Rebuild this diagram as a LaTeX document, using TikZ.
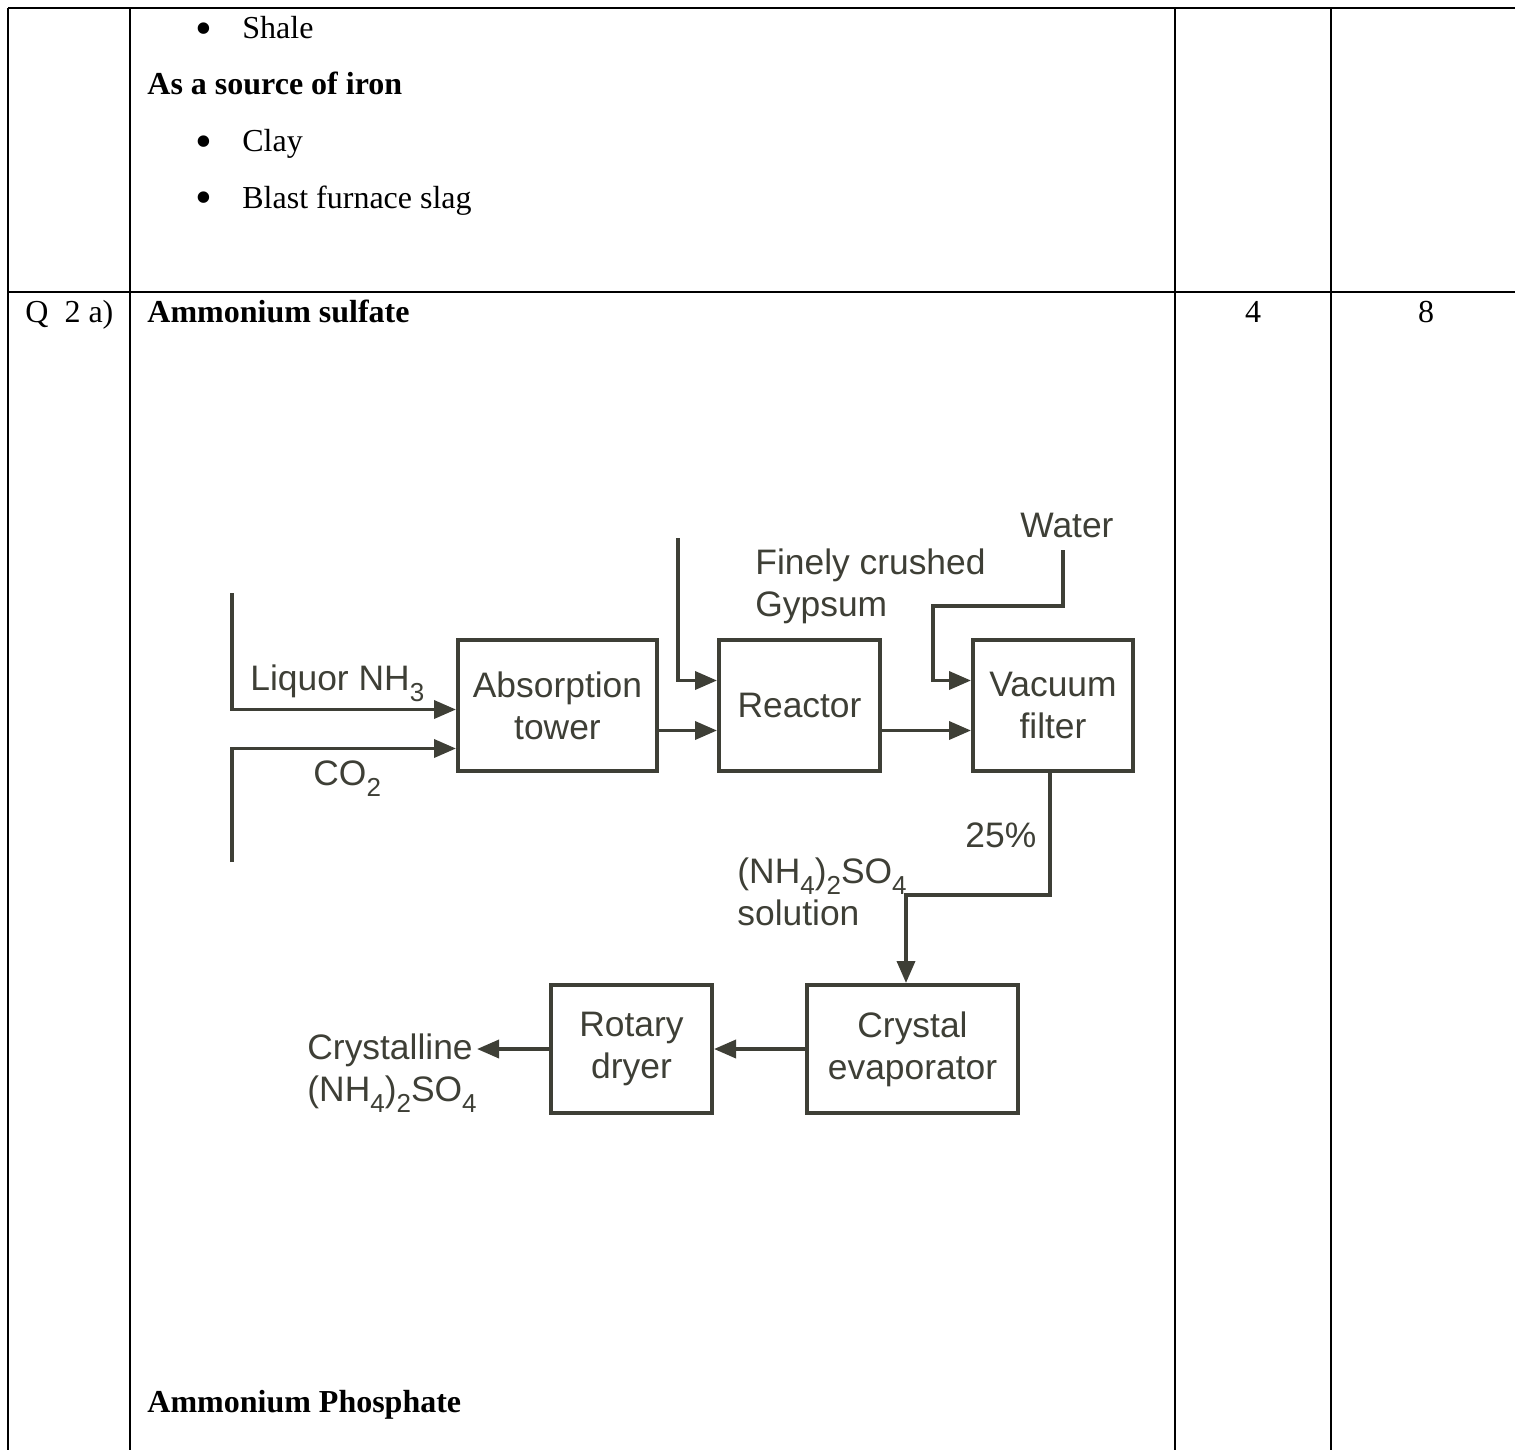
\documentclass[tikz,border=0pt]{standalone}
\usepackage{fontspec}
\setmainfont{Liberation Serif}
\newfontfamily\arial{Liberation Sans}
\usetikzlibrary{arrows.meta,calc}
\definecolor{ink}{HTML}{3E3F36}
\newcommand\dn[1]{\raisebox{-0.32em}{\fontsize{13}{13}\selectfont #1}}
\newcommand\bul{\raisebox{-0.18em}{\fontsize{24}{24}\selectfont\textbullet}}
\begin{document}
\begin{tikzpicture}[x=0.5pt,y=-0.5pt,
  rule/.style={line width=1.4pt},
  txt/.style={inner sep=0pt,anchor=base west,font=\fontsize{16}{19}\selectfont},
  unit/.style={draw=ink,line width=2pt,inner sep=0pt,align=center,text=ink,
    font=\arial\fontsize{17.7}{21}\selectfont},
  lbl/.style={inner sep=0pt,text=ink,font=\arial\fontsize{17.7}{21}\selectfont},
  flow/.style={draw=ink,line width=1.8pt,-{Triangle[length=11pt,width=9pt]}}]
\useasboundingbox (0,0) rectangle (1515,1450);
% table
\draw[rule] (8,8) -- (1515,8) (8,292) -- (1515,292);
\foreach \x in {8,130,1175,1331} \draw[rule] (\x,8) -- (\x,1450);
\node[txt] (b1) at (195,39) {\bul};
\node[txt] (shale) at (242,39) {Shale};
\node[txt] (iron) at (147,95) {\bfseries As a source of iron};
\node[txt] (b2) at (195,152) {\bul};
\node[txt] (clay) at (242,152) {Clay};
\node[txt] (b3) at (195,208) {\bul};
\node[txt] (slag) at (242,208) {Blast furnace slag};
\node[txt] (qno) at (25,322) {Q\ \ 2 a)};
\node[txt] (sulf) at (147,322) {\bfseries Ammonium sulfate};
\node[txt,anchor=base] (mk1) at (1253,322) {4};
\node[txt,anchor=base] (mk2) at (1426,322) {8};
\node[txt] (phos) at (147,1412) {\bfseries Ammonium Phosphate};
% units
\node[unit,minimum width=99.5pt,minimum height=65.5pt] (abs) at (557.5,705.5) {Absorption\\tower};
\node[unit,minimum width=80.5pt,minimum height=65.5pt] (reac) at (799.5,705.5) {Reactor};
\node[unit,minimum width=80pt,minimum height=65.5pt] (vac) at (1053,705.5) {Vacuum\\filter};
\node[unit,minimum width=105.5pt,minimum height=64pt] (cry) at (912.5,1049) {Crystal\\evaporator};
\node[unit,minimum width=80.5pt,minimum height=64pt] (rot) at (631.5,1049) {Rotary\\dryer};
% labels
\node[lbl,anchor=base west] (tnh3) at (250,690) {Liquor NH\dn{3}};
\node[lbl,anchor=base west] (tco2) at (313,785) {CO\dn{2}};
\node[lbl,anchor=north west,align=left] (tgyp) at (755,548) {Finely crushed\\Gypsum};
\node[lbl,anchor=base west] (twat) at (1020,537) {Water};
\node[lbl,anchor=base west] (tpct) at (965,847) {25\%};
\node[lbl,anchor=north west,align=left] (tsol) at (737,857) {(NH\dn{4})\dn{2}SO\dn{4}\\solution};
\node[lbl,anchor=north west,align=left] (tprod) at (307,1033) {Crystalline\\(NH\dn{4})\dn{2}SO\dn{4}};
\coordinate (nh3) at (232,593);
\coordinate (co2) at (232,862);
\coordinate (gyp) at (678,538);
\coordinate (wat) at (1063,550);
% flows
\draw[flow] (nh3) |- ($(abs.west)+(0,4)$);
\draw[flow] (co2) |- ($(abs.west)+(0,43)$);
\draw[flow] ($(abs.east)+(0,25)$) -- ($(reac.west)+(0,25)$);
\draw[flow] (gyp) |- ($(reac.west)+(0,-25)$);
\draw[flow] ($(reac.east)+(0,25)$) -- ($(vac.west)+(0,25)$);
\draw[flow] (wat) |- ++(-130,56) |- ($(vac.west)+(0,-25)$);
\draw[flow] ($(vac.south)+(-3,0)$) |- ($(cry.north)+(-6.5,-88)$) -- ($(cry.north)+(-6.5,0)$);
\draw[flow] (cry) -- (rot);
\draw[flow] (rot) -- (tprod.east |- rot.west);
\end{tikzpicture}
\end{document}
